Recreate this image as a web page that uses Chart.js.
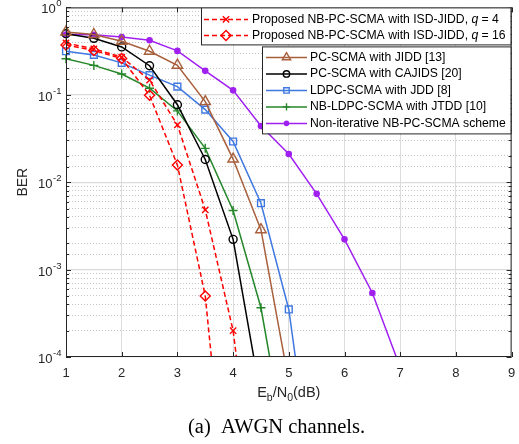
<!DOCTYPE html>
<html>
<head>
<meta charset="utf-8">
<script src="https://cdn.jsdelivr.net/npm/chart.js@4.4.1/dist/chart.umd.min.js"></script>
<style>
  body { margin: 0; background: #fff; }
  #wrap { width: 519px; height: 444px; }
</style>
</head>
<body>
<div id="wrap"><canvas id="berChart" width="519" height="444"></canvas></div>
<script>
// Eb/N0 points (dB) and the tick labels
const snrDb = [1, 1.5, 2, 2.5, 3, 3.5, 4, 4.5, 5, 5.5, 6, 6.5, 7];
const xTickLabels = [1, 2, 3, 4, 5, 6, 7, 8, 9];
const yTickValues = [1, 0.1, 0.01, 0.001, 0.0001];
const yTickExps = ['0', '-1', '-2', '-3', '-4'];

// BER curves (last values fall below 1e-4, only the line shows)
const berIsdQ4 = [0.392, 0.335, 0.27, 0.147, 0.0453, 0.00483, 0.0002, 6e-7];
const berIsdQ16 = [0.372, 0.321, 0.26, 0.0986, 0.0157, 0.0005, 3.3e-7];
const berPcJidd = [0.523, 0.49, 0.41, 0.315, 0.218, 0.0835, 0.0184, 0.00286, 5.2e-5];
const berPcCajids = [0.5, 0.443, 0.353, 0.215, 0.077, 0.0182, 0.00222, 3.4e-5];
const berLdpcJdd = [0.315, 0.286, 0.232, 0.168, 0.124, 0.0677, 0.0292, 0.00575, 0.00035, 1.7e-6];
const berNbLdpcJtdd = [0.258, 0.217, 0.173, 0.119, 0.0654, 0.0244, 0.00475, 0.000366, 5.8e-6];
const berNonIter = [0.489, 0.485, 0.459, 0.421, 0.318, 0.188, 0.1125, 0.044, 0.021, 0.00736, 0.00222, 0.00054, 7.6e-5];

const toPoints = vals => vals.map((v, i) => ({ x: snrDb[i], y: v }));
const isDecade = v => Math.abs(Math.log10(v) - Math.round(Math.log10(v))) < 1e-6;

const NONE = 'rgba(0,0,0,0)';
const AXIS_COLOR = '#262626';
const SANS = '"Liberation Sans", Arial, sans-serif';

function curve(label, vals, color, style, radius, dashed) {
  return {
    label: label,
    data: toPoints(vals),
    borderColor: color,
    borderWidth: 1.5,
    borderDash: dashed ? [5, 3] : [],
    pointStyle: style,
    pointRadius: radius,
    pointBorderWidth: 1.4,
    pointBorderColor: color,
    pointBackgroundColor: style === 'circle' && radius < 3 ? color : NONE,
    tension: 0,
    clip: { left: 8, top: 8, right: 8, bottom: 0 }
  };
}

// draws the text of label with "q" in italic
function drawLabel(ctx, text, x, y, font) {
  const m = text.match(/^(.*, )q( = .*)$/);
  ctx.font = font;
  if (!m) {
    ctx.fillText(text, x, y);
    return;
  }
  ctx.fillText(m[1], x, y);
  x += ctx.measureText(m[1]).width;
  ctx.font = 'italic ' + font;
  ctx.fillText('q', x, y);
  x += ctx.measureText('q').width;
  ctx.font = font;
  ctx.fillText(m[2], x, y);
}

function drawLegendBox(ctx, datasets, box, rows, lineX0, lineX1, textX, markScale) {
  ctx.fillStyle = '#fff';
  ctx.fillRect(box.x, box.y, box.w, box.h);
  ctx.strokeStyle = AXIS_COLOR;
  ctx.lineWidth = 1;
  ctx.setLineDash([]);
  ctx.strokeRect(box.x + 0.5, box.y + 0.5, box.w, box.h);
  datasets.forEach((ds, i) => {
    const yy = rows[i];
    ctx.strokeStyle = ds.borderColor;
    ctx.lineWidth = ds.borderWidth;
    ctx.setLineDash(ds.borderDash);
    ctx.beginPath();
    ctx.moveTo(lineX0, yy);
    ctx.lineTo(lineX1, yy);
    ctx.stroke();
    ctx.setLineDash([]);
    ctx.lineWidth = ds.pointBorderWidth;
    ctx.fillStyle = ds.pointBackgroundColor;
    Chart.helpers.drawPoint(ctx, {
      pointStyle: ds.pointStyle, rotation: 0,
      radius: ds.pointRadius * markScale, borderWidth: ds.pointBorderWidth
    }, (lineX0 + lineX1) / 2, yy);
    ctx.fillStyle = '#000';
    ctx.textBaseline = 'middle';
    ctx.textAlign = 'left';
    drawLabel(ctx, ds.label, textX, yy, '12.2px ' + SANS);
  });
}

const matlabAxes = {
  id: 'matlabAxes',
  afterDraw(chart) {
    const { ctx, chartArea: a, scales: { x, y } } = chart;
    const ds = chart.data.datasets;
    ctx.save();

    // tick marks inside the box
    ctx.strokeStyle = AXIS_COLOR;
    ctx.lineWidth = 1;
    ctx.beginPath();
    xTickLabels.forEach(v => {
      const px = Math.round(x.getPixelForValue(v)) + 0.5;
      ctx.moveTo(px, a.bottom); ctx.lineTo(px, a.bottom - 5);
      ctx.moveTo(px, a.top); ctx.lineTo(px, a.top + 5);
    });
    y.ticks.forEach(t => {
      const py = Math.round(y.getPixelForValue(t.value)) + 0.5;
      const len = isDecade(t.value) ? 5 : 3;
      ctx.moveTo(a.left, py); ctx.lineTo(a.left + len, py);
      ctx.moveTo(a.right, py); ctx.lineTo(a.right - len, py);
    });
    ctx.stroke();
    ctx.strokeRect(a.left + 0.5, a.top + 0.5, a.right - a.left - 1, a.bottom - a.top - 1);

    // x tick labels
    ctx.fillStyle = AXIS_COLOR;
    ctx.font = '13px ' + SANS;
    ctx.textAlign = 'center';
    ctx.textBaseline = 'middle';
    xTickLabels.forEach(v => ctx.fillText(String(v), x.getPixelForValue(v), a.bottom + 16));

    // y tick labels 10^n
    ctx.textAlign = 'left';
    ctx.textBaseline = 'alphabetic';
    yTickValues.forEach((v, i) => {
      const py = y.getPixelForValue(v);
      ctx.font = '9.5px ' + SANS;
      const we = ctx.measureText(yTickExps[i]).width;
      ctx.font = '13px ' + SANS;
      const wb = ctx.measureText('10').width;
      const x0 = a.left - 5 - we - wb;
      ctx.fillText('10', x0, py + 6);
      ctx.font = '9.5px ' + SANS;
      ctx.fillText(yTickExps[i], x0 + wb + 0.5, py - 1);
    });

    // y title
    ctx.save();
    ctx.translate(23, (a.top + a.bottom) / 2);
    ctx.rotate(-Math.PI / 2);
    ctx.textAlign = 'center';
    ctx.textBaseline = 'middle';
    ctx.font = '14px ' + SANS;
    ctx.fillText('BER', 0, 0);
    ctx.restore();

    // x title E_b/N_0(dB)
    const parts = [['E', 0], ['b', 1], ['/N', 0], ['0', 1], ['(dB)', 0]];
    const fontFor = sub => (sub ? '10.5px ' : '14.5px ') + SANS;
    let total = 0;
    parts.forEach(p => { ctx.font = fontFor(p[1]); total += ctx.measureText(p[0]).width; });
    let tx = (a.left + a.right) / 2 - total / 2;
    const base = a.bottom + 40;
    ctx.textAlign = 'left';
    parts.forEach(p => {
      ctx.font = fontFor(p[1]);
      ctx.fillText(p[0], tx, p[1] ? base + 4 : base);
      tx += ctx.measureText(p[0]).width;
    });

    // caption
    ctx.fillStyle = '#000';
    ctx.font = '20.5px "Liberation Serif", "Times New Roman", serif';
    ctx.fillText('(a)', 188, a.bottom + 76);
    ctx.fillText('AWGN channels.', 221, a.bottom + 76);

    // legends: two boxes like the original
    drawLegendBox(ctx, ds.slice(0, 2),
      { x: 201, y: a.top, w: a.right - 202, h: 37 },
      [a.top + 12, a.top + 28], 204, 248, 252, 1);
    drawLegendBox(ctx, ds.slice(2),
      { x: 262, y: a.top + 39, w: a.right - 263, h: 87 },
      [a.top + 50, a.top + 66.5, a.top + 83, a.top + 99.5, a.top + 116], 266, 307, 310, 0.8);

    ctx.restore();
  }
};

const ctx = document.getElementById('berChart').getContext('2d');
const berChart = new Chart(ctx, {
  type: 'line',
  data: {
    datasets: [
      curve('Proposed NB-PC-SCMA with ISD-JIDD, q = 4', berIsdQ4, '#ff0000', 'crossRot', 4.5, true),
      curve('Proposed NB-PC-SCMA with ISD-JIDD, q = 16', berIsdQ16, '#ff0000', 'rectRot', 5, true),
      curve('PC-SCMA with JIDD [13]', berPcJidd, '#a85f3c', 'triangle', 6, false),
      curve('PC-SCMA with CAJIDS [20]', berPcCajids, '#000000', 'circle', 4, false),
      curve('LDPC-SCMA with JDD [8]', berLdpcJdd, '#3f78e0', 'rect', 4.8, false),
      curve('NB-LDPC-SCMA with JTDD [10]', berNbLdpcJtdd, '#25872a', 'cross', 4.5, false),
      curve('Non-iterative NB-PC-SCMA scheme', berNonIter, '#a020f0', 'circle', 2.6, false)
    ]
  },
  options: {
    responsive: false,
    animation: false,
    layout: { padding: { left: 66, right: 6, top: 6, bottom: 87 } },
    plugins: {
      legend: { display: false },
      tooltip: { enabled: false }
    },
    scales: {
      x: {
        type: 'linear',
        min: 1,
        max: 9,
        ticks: { stepSize: 1, display: false },
        grid: { drawTicks: false, color: '#dcdcdc', lineWidth: 1 },
        border: { display: false }
      },
      y: {
        type: 'logarithmic',
        min: 1e-4,
        max: 1,
        ticks: { display: false },
        grid: {
          drawTicks: false,
          color: c => (c.tick && isDecade(c.tick.value)) ? '#dadada' : '#b8b8b8',
          lineWidth: c => (c.tick && isDecade(c.tick.value)) ? 1.3 : 0.8
        },
        border: {
          display: false,
          dash: c => (c.tick && isDecade(c.tick.value)) ? [] : [1, 2]
        }
      }
    }
  },
  plugins: [matlabAxes]
});
</script>
</body>
</html>
